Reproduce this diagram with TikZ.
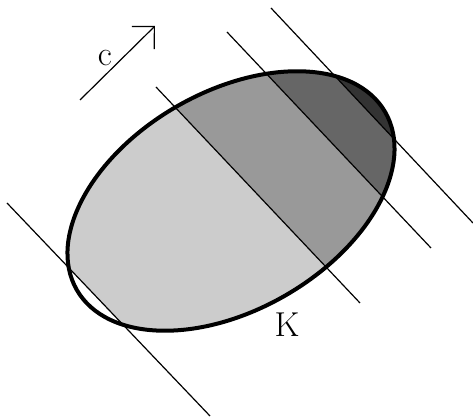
\documentclass[tikz,border=0pt]{standalone}
\usepackage{tikz}
\usetikzlibrary{arrows.meta,calc}

\begin{document}
\begin{tikzpicture}[x=0.5pt, y=0.5pt, reta/.style={line width=0.6pt}, borda/.style={line width=2pt}]
        \useasboundingbox (0,0) rectangle (473,417);

        % Retas perpendiculares a c
        \coordinate (ini1) at (7,214);   \coordinate (fim1) at (210,1);
        \coordinate (ini2) at (156,330); \coordinate (fim2) at (360,114);
        \coordinate (ini3) at (227,385); \coordinate (fim3) at (431,169);
        \coordinate (ini4) at (271,409); \coordinate (fim4) at (473,194);
        \coordinate (centro) at (231,216);

        % Faixas dentro de K
        \begin{scope}
            \clip[rotate around={30:(centro)}] (centro) ellipse [x radius=178, y radius=109];
            \fill[black!20] (ini1) -- (fim1) -- (473,0) -- (473,417) -- (0,417) -- cycle;
            \fill[black!40] (ini2) -- (fim2) -- (473,114) -- (473,417) -- (156,417) -- cycle;
            \fill[black!60] (ini3) -- (fim3) -- (473,169) -- (473,417) -- (227,417) -- cycle;
            \fill[black!80] (ini4) -- (fim4) -- (473,417) -- cycle;
        \end{scope}
        \draw[borda, rotate around={30:(centro)}] (centro) ellipse [x radius=178, y radius=109];

        \foreach \i in {1,...,4}
            \draw[reta] (ini\i) -- (fim\i);

        % Direcao c
        \coordinate (c0) at (80,317);
        \coordinate (c1) at (155,391);
        \draw[reta, -{Straight Barb[length=8pt, width=16pt]}] (c0) -- (c1);
        \node[font=\LARGE] (rotc) at (105,359) {c};
        \node[font=\LARGE] (rotk) at (287,92) {K};
\end{tikzpicture}
\end{document}
